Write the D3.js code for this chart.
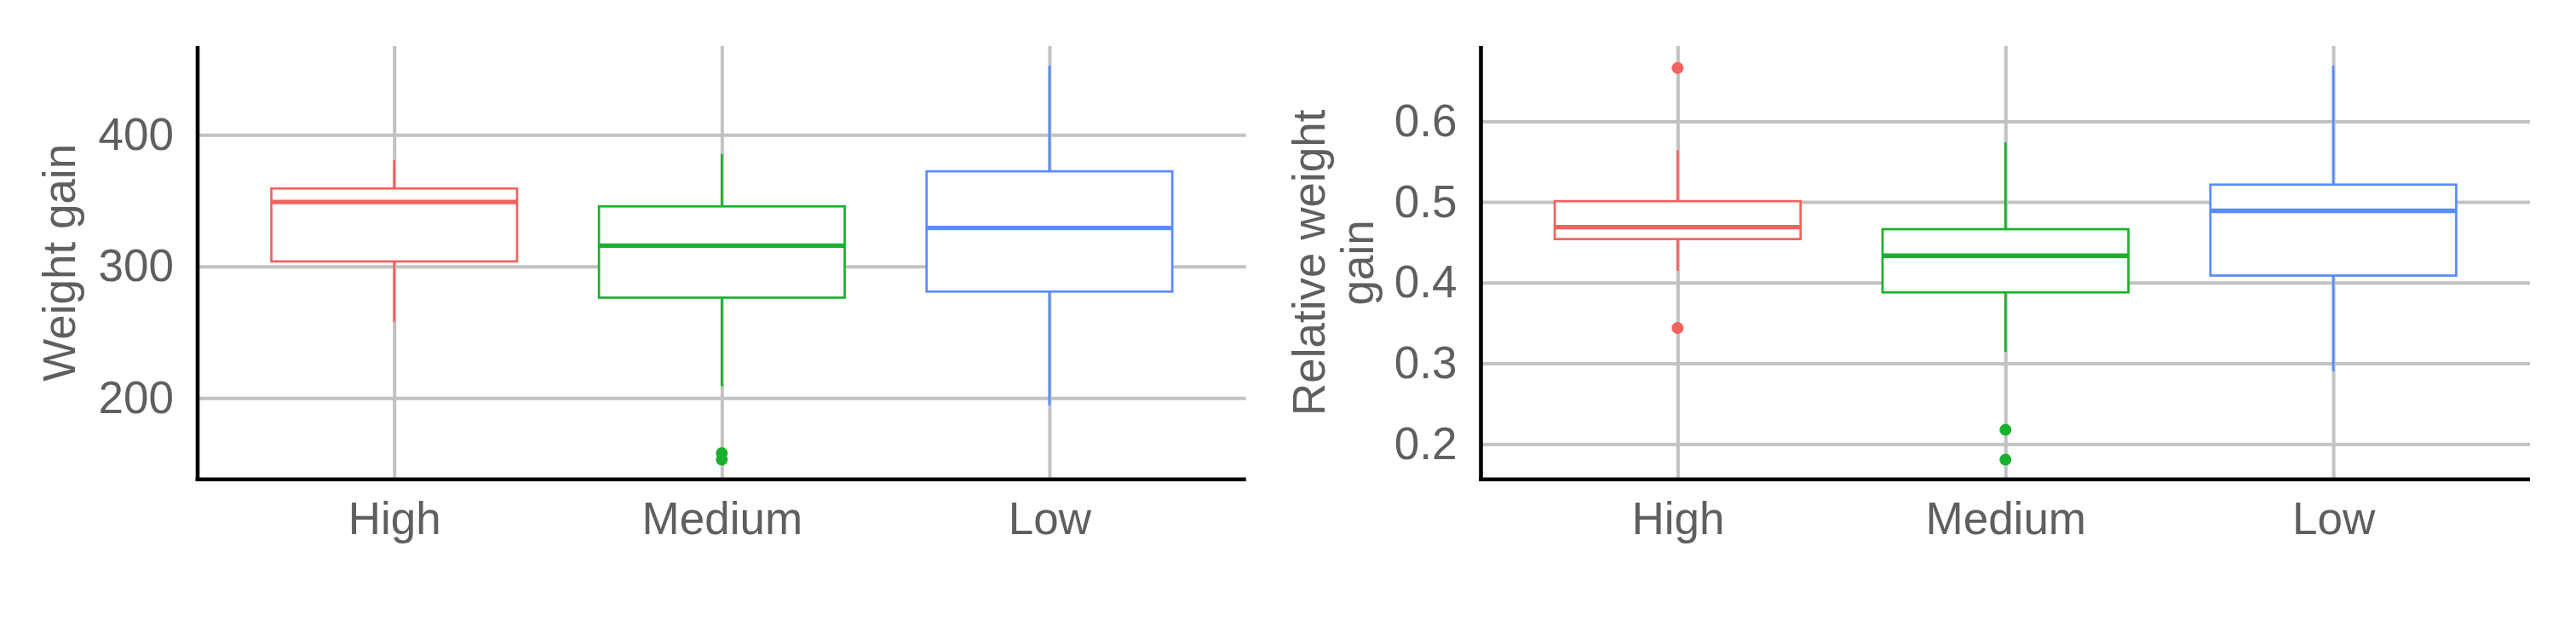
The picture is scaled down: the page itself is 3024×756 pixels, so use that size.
<!DOCTYPE html>
<html>
<head>
<meta charset="utf-8">
<script src="https://cdn.jsdelivr.net/npm/d3@7"></script>
<style>
  html, body { margin: 0; padding: 0; background: #ffffff; }
  svg { display: block; }
  text { font-family: "Liberation Sans", Arial, Helvetica, sans-serif; }
</style>
</head>
<body>
<svg id="chart" width="3024" height="756"></svg>
<script>
// ---------------- data ----------------
const categories = ["High", "Medium", "Low"];
const colors = ["#F3625E", "#19B02E", "#5A8BFF"];

// Weight gain: [lower whisker, Q1, median, Q3, upper whisker]
const weightStats = [
  [258.0, 303.8, 348.9, 359.2, 380.6],
  [209.0, 276.3, 315.8, 345.6, 385.4],
  [194.4, 280.9, 329.2, 372.2, 452.4]
];
const weightOutliers = [
  [],
  [158.2, 153.3],
  []
];
const weightTicks = [200, 300, 400];

// Relative weight gain
const relStats = [
  [0.4147, 0.4540, 0.4688, 0.5010, 0.5640],
  [0.3144, 0.3880, 0.4333, 0.4663, 0.5740],
  [0.2900, 0.4088, 0.4891, 0.5215, 0.6689]
];
const relOutliers = [
  [0.666, 0.3438],
  [0.2176, 0.1807],
  []
];
const relTicks = [0.2, 0.3, 0.4, 0.5, 0.6];

// ---------------- drawing ----------------
const svg = d3.select("#chart");
const FONT = 53;
const TEXT_COL = "#5f5f5f";
const GRID_COL = "#c2c2c2";
const TOP = 54, BOTTOM = 562.7;

function panel(opts) {
  const { x0, x1, stats, outliers, ticks, fmt, title } = opts;
  const g = svg.append("g");

  // y domain from data with 5% expansion
  const all = stats.flat().concat(outliers.flat());
  const lo = d3.min(all), hi = d3.max(all), r = hi - lo;
  const y = d3.scaleLinear().domain([lo - 0.05 * r, hi + 0.05 * r]).range([BOTTOM, TOP]);
  const x = d3.scalePoint().domain(categories).range([x0, x1]).padding(0.6);
  const boxW = x.step() * 0.75;

  // horizontal gridlines + y tick labels
  const yAxis = g.append("g")
    .attr("transform", `translate(${x0},0)`)
    .call(d3.axisLeft(y).tickValues(ticks).tickFormat(fmt)
      .tickSize(-(x1 - x0)).tickPadding(28));
  yAxis.select(".domain").remove();
  yAxis.selectAll(".tick line").attr("stroke", GRID_COL).attr("stroke-width", 4);
  yAxis.selectAll(".tick text")
    .attr("fill", TEXT_COL).style("font-size", FONT + "px");

  // vertical gridlines + x labels
  const xAxis = g.append("g")
    .attr("transform", `translate(0,${BOTTOM})`)
    .call(d3.axisBottom(x).tickSize(-(BOTTOM - TOP)).tickPadding(26.5));
  xAxis.select(".domain").remove();
  xAxis.selectAll(".tick line").attr("stroke", GRID_COL).attr("stroke-width", 4);
  xAxis.selectAll(".tick text")
    .attr("fill", TEXT_COL).style("font-size", FONT + "px");

  // boxes
  const boxes = g.selectAll("g.box").data(stats).join("g").attr("class", "box");
  boxes.each(function (s, i) {
    const bg = d3.select(this);
    const cx = x(categories[i]);
    const col = colors[i];
    bg.append("line")
      .attr("x1", cx).attr("x2", cx).attr("y1", y(s[3])).attr("y2", y(s[4]))
      .attr("stroke", col).attr("stroke-width", 2.7);
    bg.append("line")
      .attr("x1", cx).attr("x2", cx).attr("y1", y(s[1])).attr("y2", y(s[0]))
      .attr("stroke", col).attr("stroke-width", 2.7);
    bg.append("rect")
      .attr("x", cx - boxW / 2).attr("width", boxW)
      .attr("y", y(s[3])).attr("height", y(s[1]) - y(s[3]))
      .attr("fill", "#ffffff").attr("stroke", col).attr("stroke-width", 2.7);
    bg.append("line")
      .attr("x1", cx - boxW / 2).attr("x2", cx + boxW / 2)
      .attr("y1", y(s[2])).attr("y2", y(s[2]))
      .attr("stroke", col).attr("stroke-width", 5.4);
    bg.selectAll("circle").data(outliers[i]).join("circle")
      .attr("cx", cx).attr("cy", d => y(d)).attr("r", 7).attr("fill", col);
  });

  // axis lines
  g.append("line").attr("x1", x0).attr("x2", x0).attr("y1", TOP).attr("y2", BOTTOM + 2.3)
    .attr("stroke", "#000").attr("stroke-width", 4.6);
  g.append("line").attr("x1", x0 - 2.3).attr("x2", x1).attr("y1", BOTTOM).attr("y2", BOTTOM)
    .attr("stroke", "#000").attr("stroke-width", 4.6);

  // y title
  const t = g.append("text")
    .attr("text-anchor", "middle").attr("fill", TEXT_COL)
    .style("font-size", FONT + "px");
  title.lines.forEach((ln, k) => {
    t.append("tspan")
      .attr("x", 0).attr("y", 0)
      .attr("dy", (k * title.lineGap) + "px")
      .text(ln);
  });
  t.attr("transform", `translate(${title.x},${(TOP + BOTTOM) / 2}) rotate(-90)`);
  // rotate(-90): local +y maps to screen +x, so dy offsets push later lines right
}

panel({
  x0: 232, x1: 1462.7,
  stats: weightStats, outliers: weightOutliers, ticks: weightTicks,
  fmt: d3.format("d"),
  title: { lines: ["Weight gain"], x: 88, lineGap: 0 }
});

panel({
  x0: 1738.5, x1: 2970,
  stats: relStats, outliers: relOutliers, ticks: relTicks,
  fmt: d3.format(".1f"),
  title: { lines: ["Relative weight", "gain"], x: 1555, lineGap: 56.7 }
});
</script>
</body>
</html>
